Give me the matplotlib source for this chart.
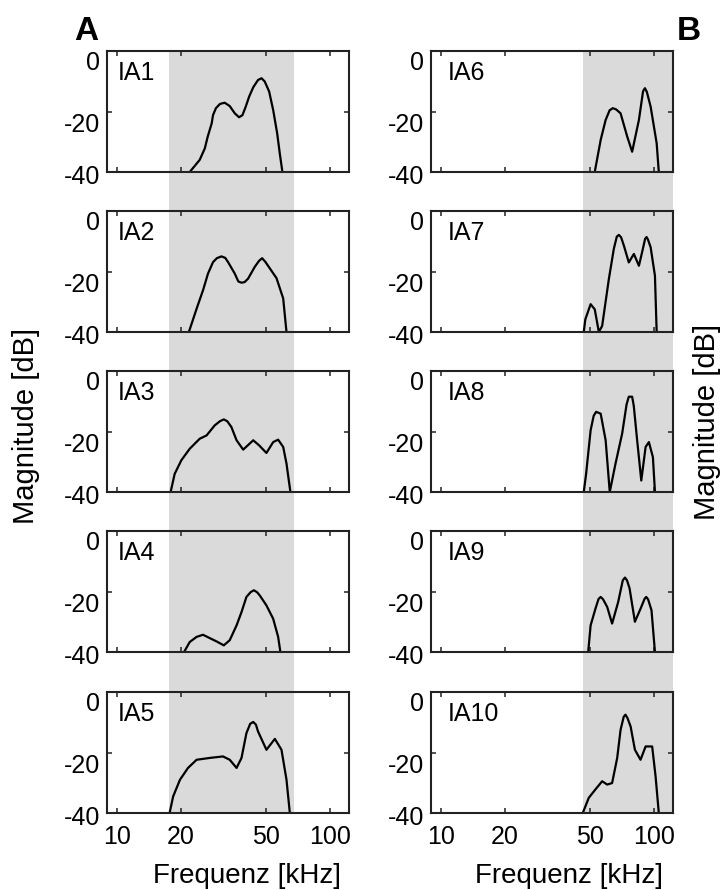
import matplotlib
matplotlib.use("Agg")
import matplotlib.pyplot as plt
import matplotlib.transforms as mtransforms
from matplotlib.ticker import NullLocator

plt.rcParams['font.family'] = ['Liberation Sans', 'DejaVu Sans']

# spectra: frequency [kHz] and magnitude [dB]
ia1_f = [22.0, 24.5, 25.9, 26.7, 27.9, 28.3, 29.2, 30.5, 32.1, 33.9, 35.8, 37.5, 38.9, 40.3, 41.8,
         43.7, 46.0, 47.8, 49.5, 51.9, 54.2, 56.6, 58.2, 59.9]
ia1_db = [-40, -36, -32.2, -28.4, -23.9, -21.2, -18.9, -17.5, -17.1, -18.2, -20.6, -21.9, -21.2, -18.4, -15.1,
          -12.0, -9.6, -9.0, -10.1, -13.4, -19.5, -27.2, -33.8, -40]

ia2_f = [21.8, 23.7, 25.4, 26.8, 28.3, 29.5, 31.0, 32.3, 33.3, 35.8, 37.2, 38.5, 39.8, 41.3, 44.4,
         46.5, 48.1, 49.8, 52.2, 56.2, 60.4, 62.6]
ia2_db = [-40, -32.3, -26.2, -20.7, -16.9, -15.6, -15.0, -15.5, -16.9, -20.7, -23.3, -23.7, -23.5, -22.4, -18.5,
          -16.5, -15.6, -16.8, -18.9, -22.2, -28.9, -40]

ia3_f = [17.9, 18.7, 20.1, 22.0, 24.5, 26.4, 28.8, 30.5, 31.8, 33.0, 34.5, 36.5, 39.2, 43.7, 46.6,
         50.4, 54.2, 57.2, 60.4, 62.6, 65.3]
ia3_db = [-40, -34, -29.5, -25.7, -22.4, -21.3, -18.0, -16.6, -16.0, -16.6, -18.5, -22.9, -26.0, -22.9, -24.6,
          -27.1, -23.5, -22.7, -25.1, -30.6, -40]

ia4_f = [20.7, 22.0, 23.7, 25.4, 27.3, 29.4, 31.8, 33.9, 36.5, 38.5, 40.6, 42.5, 44.0, 45.5, 46.9,
         50.4, 54.2, 57.2, 58.6]
ia4_db = [-40, -36.7, -35.0, -34.3, -35.4, -36.5, -37.8, -36.1, -31.2, -26.8, -21.8, -20.2, -19.6, -20.2, -21.3,
          -24.6, -29.0, -35.0, -40]

ia5_f = [17.7, 18.4, 19.8, 21.6, 23.7, 27.3, 31.5, 33.9, 36.5, 38.5, 40.6, 42.3, 43.7, 45.0, 46.0,
         50.4, 55.2, 59.3, 62.6, 64.9]
ia5_db = [-40, -34.5, -29.0, -25.1, -22.4, -21.8, -21.3, -22.4, -25.1, -21.8, -13.6, -10.5, -9.9, -10.8, -13.0,
          -19.1, -15.5, -19.1, -29.0, -40]

ia6_f = [52.8, 56.3, 59.4, 62.0, 64.2, 66.5, 69.8, 75.0, 79.1, 85.1, 89.0, 90.8, 92.7, 96.6, 103.1, 105.5]
ia6_db = [-40, -29.4, -22.8, -19.6, -18.9, -19.3, -20.6, -28.3, -33.3, -22.8, -13.3, -12.3, -13.5, -18.4, -30.5, -40]

ia7_f = [46.9, 47.7, 50.5, 52.8, 55.2, 57.2, 61.5, 64.9, 67.0, 68.5, 70.2, 72.3, 76.3, 80.6, 85.1,
         88.1, 91.0, 92.4, 93.8, 96.6, 101.2, 103.1]
ia7_db = [-40, -35.8, -30.8, -32.5, -40, -38, -22.5, -12.5, -8.5, -7.9, -8.7, -11.4, -17.0, -14.2, -18.1,
          -13.6, -9.2, -8.6, -9.4, -12.0, -21.4, -40]

ia8_f = [46.9, 48.1, 50.5, 52.2, 53.6, 56.3, 59.4, 62.1, 66.1, 71.0, 74.5, 76.3, 79.1, 80.5, 83.5,
         87.3, 91.5, 94.8, 99.0, 101.2]
ia8_db = [-40, -34, -19.6, -14.8, -13.5, -14.1, -22.9, -40, -30.6, -20.7, -11.0, -8.5, -8.5, -11.5, -22.9,
          -36.2, -25.1, -23.5, -28.5, -40]

ia9_f = [49.2, 50.5, 53.2, 55.0, 56.3, 57.8, 60.4, 63.7, 68.0, 71.5, 73.2, 74.8, 76.9, 81.5, 86.6,
         90.5, 92.1, 94.0, 97.5, 101.2]
ia9_db = [-40, -31.2, -25.7, -22.5, -21.8, -22.6, -25.1, -30.6, -23.5, -16.3, -15.4, -16.3, -18.9, -30.0, -25.7,
          -22.4, -21.8, -22.6, -26.2, -40]

ia10_f = [46.4, 49.5, 53.2, 57.2, 60.4, 63.7, 67.3, 69.8, 72.2, 73.6, 75.2, 77.8, 81.5, 86.6, 91.5,
          98.2, 101.9, 105.5]
ia10_db = [-40, -35.0, -32.2, -29.5, -30.6, -30.1, -21.8, -12.5, -8.2, -7.5, -8.6, -11.4, -19.1, -22.4, -18.0,
           -18.0, -27.9, -40]

names = ['IA1', 'IA2', 'IA3', 'IA4', 'IA5', 'IA6', 'IA7', 'IA8', 'IA9', 'IA10']
freqs = [ia1_f, ia2_f, ia3_f, ia4_f, ia5_f, ia6_f, ia7_f, ia8_f, ia9_f, ia10_f]
mags = [ia1_db, ia2_db, ia3_db, ia4_db, ia5_db, ia6_db, ia7_db, ia8_db, ia9_db, ia10_db]

band_a = (17.5, 68)
band_b = (46.5, 123)
xlim = (9, 123)
xticks = [10, 20, 50, 100]
yticks = [0, -20, -40]

W, H = 721, 890
fig = plt.figure(figsize=(W / 100, H / 100), dpi=100)

col_x = [107, 431]
ax_w, ax_h = 242, 121
tops = [51, 211, 371, 531, 692]


def rect(x, top, w, h):
    return [x / W, 1 - (top + h) / H, w / W, h / H]


# grey frequency band behind each column
for c, band in enumerate([band_a, band_b]):
    bg = fig.add_axes(rect(col_x[c], tops[0], ax_w, tops[-1] + ax_h - tops[0]), zorder=0)
    bg.set_xscale('log')
    bg.set_xlim(*xlim)
    bg.axvspan(band[0], band[1], color='#dadada', lw=0)
    bg.axis('off')

label_shift = {0: -7, -20: -8, -40: -2}

for i in range(10):
    c, r = divmod(i, 5)
    ax = fig.add_axes(rect(col_x[c], tops[r], ax_w, ax_h), zorder=1)
    ax.set_facecolor('none')
    ax.plot(freqs[i], mags[i], color='black', lw=1.6)
    ax.set_xscale('log')
    ax.set_xlim(*xlim)
    ax.set_ylim(-40, 0)
    ax.xaxis.set_minor_locator(NullLocator())
    ax.set_xticks(xticks)
    ax.set_yticks(yticks)
    ax.set_yticklabels([str(v) for v in yticks])
    if r == 4:
        ax.set_xticklabels([str(v) for v in xticks])
    else:
        ax.set_xticklabels([])
    ax.tick_params(direction='in', length=3.5, width=1.1, top=True, right=True,
                   labelsize=18, color='#222222')
    ax.tick_params(axis='x', pad=9)
    ax.tick_params(axis='y', pad=5)
    for s in ax.spines.values():
        s.set_linewidth(1.5)
        s.set_color('#222222')
    ax.text(0.045 if c == 0 else 0.07, 0.82, names[i], transform=ax.transAxes,
            fontsize=18, va='center', ha='left')
    for v, lab in zip(yticks, ax.get_yticklabels()):
        off = mtransforms.ScaledTranslation(0, label_shift[v] / 72, fig.dpi_scale_trans)
        lab.set_transform(lab.get_transform() + off)

fig.text(247 / W, 1 - 876 / H, 'Frequenz [kHz]', ha='center', va='center', fontsize=20)
fig.text(569 / W, 1 - 876 / H, 'Frequenz [kHz]', ha='center', va='center', fontsize=20)
fig.text(26 / W, 1 - 426 / H, 'Magnitude [dB]', ha='center', va='center', rotation=90, fontsize=21)
fig.text(707 / W, 1 - 422 / H, 'Magnitude [dB]', ha='center', va='center', rotation=90, fontsize=21)
fig.text(86 / W, 1 - 31 / H, 'A', ha='center', va='center', fontsize=24, fontweight='bold')
fig.text(689 / W, 1 - 32 / H, 'B', ha='center', va='center', fontsize=24, fontweight='bold')

fig.savefig('out.png', dpi=100)
